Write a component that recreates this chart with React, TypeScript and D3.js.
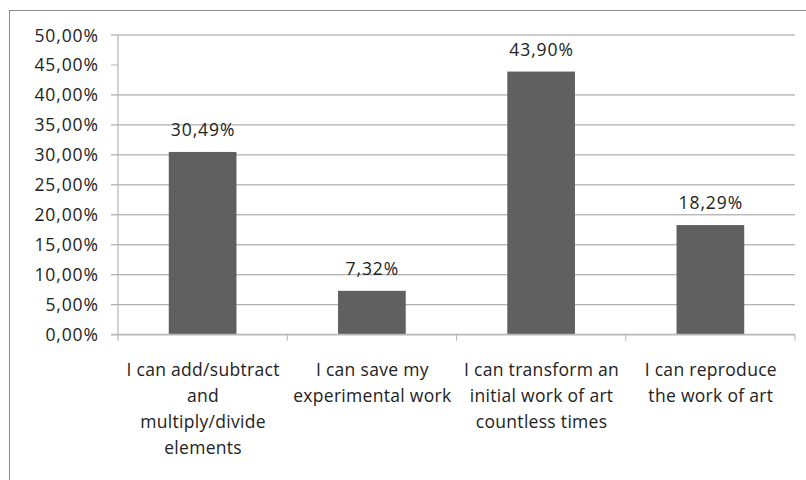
import React from "react";
import * as d3 from "d3";

// Share of respondents per statement (percent)
const categories = [
  "I can add/subtract\nand\nmultiply/divide\nelements",
  "I can save my\nexperimental work",
  "I can transform an\ninitial work of art\ncountless times",
  "I can reproduce\nthe work of art",
];
const values = [30.49, 7.32, 43.9, 18.29];
const yTicks = [0, 5, 10, 15, 20, 25, 30, 35, 40, 45, 50];
const hiddenGridTicks = [0, 45];

const W = 806;
const H = 480;
const FONT = "'Open Sans', sans-serif";
const TEXT = "#222";
const FS = 17.5;
const LS = 0.9;

const fmt = (v: number) => v.toFixed(2).replace(".", ",") + "%";

export default function App() {
  const left = 118;
  const right = 795;
  const top = 35;
  const bottom = 334.7;

  const x = d3
    .scaleBand<string>()
    .domain(categories)
    .range([left, right])
    .paddingInner(0.6)
    .paddingOuter(0.3);
  const y = d3.scaleLinear().domain([0, 50]).range([bottom, top]);
  const bandEdges = d3
    .range(categories.length + 1)
    .map((i) => left + i * ((right - left) / categories.length));
  const cx = (c: string) => (x(c) as number) + x.bandwidth() / 2 + LS / 2;

  return (
    <svg
      width={W}
      height={H}
      style={{ position: "absolute", left: 0, top: 0, background: "#fff" }}
      fontFamily={FONT}
    >
      <rect x={9.5} y={10.5} width={W + 10} height={H + 10} fill="#fff" stroke="#8c8c8c" strokeWidth={1} />

      {/* gridlines, tick marks and y labels */}
      {yTicks.map((t) => (
        <g key={t}>
          {!hiddenGridTicks.includes(t) && (
            <line x1={left - 7} x2={right} y1={y(t)} y2={y(t)} stroke="#9a9a9a" strokeWidth={1} />
          )}
          {hiddenGridTicks.includes(t) && (
            <line x1={left - 7} x2={left} y1={y(t)} y2={y(t)} stroke="#b5b5b5" strokeWidth={1} />
          )}
          <text
            x={98 + LS}
            y={y(t) + 6.5}
            textAnchor="end"
            fontSize={FS}
            fill={TEXT}
            letterSpacing={LS}
          >
            {fmt(t)}
          </text>
        </g>
      ))}

      {/* y axis */}
      <line x1={left} x2={left} y1={top} y2={bottom + 6} stroke="#b5b5b5" strokeWidth={1.2} />

      {/* bars */}
      {categories.map((c, i) => (
        <rect
          key={c}
          x={x(c)}
          y={y(values[i])}
          width={x.bandwidth()}
          height={bottom - y(values[i])}
          fill="#606060"
        />
      ))}

      {/* x axis */}
      <line x1={left - 7} x2={right} y1={bottom} y2={bottom} stroke="#b8b8b8" strokeWidth={1.8} />
      {bandEdges.slice(1).map((e, i) => (
        <line key={i} x1={e} x2={e} y1={bottom} y2={bottom + 6} stroke="#b5b5b5" strokeWidth={1} />
      ))}

      {/* value labels */}
      {categories.map((c, i) => (
        <text
          key={c}
          x={cx(c)}
          y={y(values[i]) - 16}
          textAnchor="middle"
          fontSize={FS}
          fill={TEXT}
          letterSpacing={LS}
        >
          {fmt(values[i])}
        </text>
      ))}

      {/* category labels */}
      {categories.map((c) => (
        <text key={c} y={376} textAnchor="middle" fontSize={FS} fill={TEXT} letterSpacing={0.3}>
          {c.split("\n").map((line, j) => (
            <tspan key={j} x={cx(c)} dy={j === 0 ? 0 : 26}>
              {line}
            </tspan>
          ))}
        </text>
      ))}
    </svg>
  );
}
